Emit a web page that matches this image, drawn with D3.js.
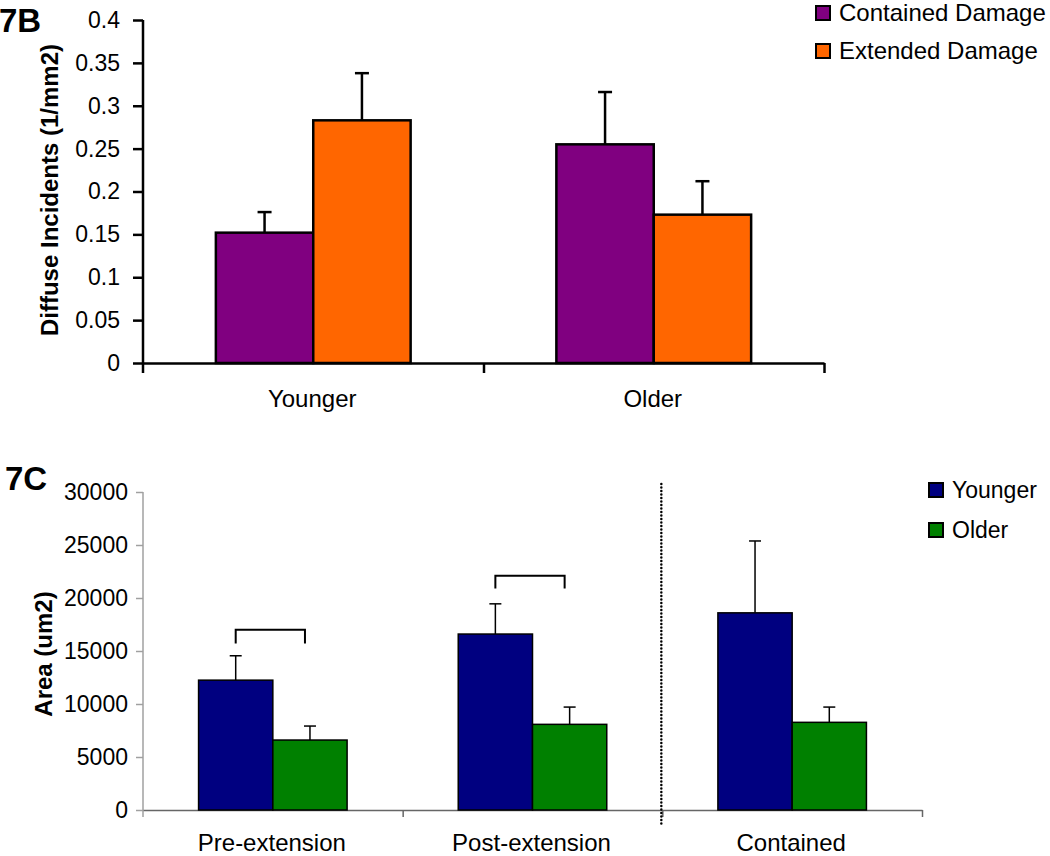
<!DOCTYPE html>
<html>
<head>
<meta charset="utf-8">
<script src="https://cdn.jsdelivr.net/npm/d3@7"></script>
<style>
  body { margin: 0; background: #fff; }
  svg { display: block; font-family: "Liberation Sans", Arial, sans-serif; }
  .tickLabel { font-size: 23px; fill: #000; }
  .groupLabel { font-size: 24px; fill: #000; }
  .axisTitle { font-size: 24px; font-weight: bold; }
  .panelTitle { font-size: 33px; font-weight: bold; }
</style>
</head>
<body>
<div class="chart"></div>
<script>
var w = 1050;
var h = 856;

// ---- panel 7B data ----
var groupsB = ["Younger", "Older"];
var seriesB = ["Contained Damage", "Extended Damage"];
var colorsB = ["#800080", "#ff6600"];
var containedB = [0.152, 0.255];
var extendedB = [0.283, 0.173];
var containedErrB = [0.024, 0.061];
var extendedErrB = [0.055, 0.039];
var yTicksB = [0, 0.05, 0.1, 0.15, 0.2, 0.25, 0.3, 0.35, 0.4];

// ---- panel 7C data ----
var groupsC = ["Pre-extension", "Post-extension", "Contained"];
var seriesC = ["Younger", "Older"];
var colorsC = ["#000080", "#008000"];
var youngerC = [12250, 16600, 18600];
var olderC = [6600, 8080, 8270];
var youngerErrC = [2300, 2850, 6780];
var olderErrC = [1320, 1630, 1440];
var yTicksC = [0, 5000, 10000, 15000, 20000, 25000, 30000];
// significance brackets
var bracketGroups = ["Pre-extension", "Post-extension"];
var bracketTop = [17000, 22100];
var bracketLeg = [15700, 20900];

var svg = d3.select(".chart").append("svg")
            .attr("width", w)
            .attr("height", h);

// builds one grouped bar panel
var barPanel = function(opts) {
  var g = svg.append("g");

  var xScale = d3.scaleBand()
                 .domain(opts.groups)
                 .range([opts.left, opts.right])
                 .padding(0);

  var groupW = xScale.bandwidth() * opts.groupFrac;
  var subScale = d3.scaleBand()
                   .domain(opts.series)
                   .range([-groupW / 2, groupW / 2])
                   .padding(0);

  var yScale = d3.scaleLinear()
                 .domain([0, opts.yMax])
                 .range([opts.bottom, opts.top]);

  // y axis ticks + labels
  var yAxis = d3.axisLeft()
                .scale(yScale)
                .tickValues(opts.yTicks)
                .tickSize(opts.tickLen)
                .tickPadding(opts.tickPad)
                .tickFormat(function(d) { return d; });

  var yg = g.append("g")
            .attr("transform", "translate(" + opts.left + ",0)")
            .call(yAxis);
  yg.select(".domain").remove();
  yg.selectAll(".tick line")
    .attr("stroke", opts.yAxisColor)
    .attr("stroke-width", opts.axisWidth);
  yg.selectAll(".tick text")
    .attr("class", "tickLabel")
    .attr("font-family", null)
    .attr("font-size", null);

  // y axis line, runs a little below zero
  g.append("line")
   .attr("x1", opts.left).attr("x2", opts.left)
   .attr("y1", yScale(opts.yMax)).attr("y2", yScale(0) + opts.tickLen)
   .attr("stroke", opts.yAxisColor)
   .attr("stroke-width", opts.axisWidth);

  // x axis line and ticks at group edges
  var edges = d3.scaleLinear()
                .domain([0, opts.groups.length])
                .range([opts.left, opts.right]);
  var xAxis = d3.axisBottom()
                .scale(edges)
                .tickValues(d3.range(1, opts.groups.length + 1))
                .tickSize(opts.tickLen)
                .tickSizeOuter(0)
                .tickFormat("");
  var xg = g.append("g")
            .attr("transform", "translate(0," + yScale(0) + ")")
            .call(xAxis);
  xg.select(".domain")
    .attr("stroke", opts.xAxisColor)
    .attr("stroke-width", opts.axisWidth);
  xg.selectAll(".tick line")
    .attr("stroke", opts.xAxisColor)
    .attr("stroke-width", opts.axisWidth);

  // group labels
  g.selectAll("groupLabels")
   .data(opts.groups)
   .enter()
   .append("text")
   .attr("class", "groupLabel")
   .attr("text-anchor", "middle")
   .attr("x", function(d) { return xScale(d) + xScale.bandwidth() / 2 - 1; })
   .attr("y", opts.labelY)
   .text(function(d) { return d; });

  // bars
  var rows = [];
  opts.groups.forEach(function(grp, i) {
    opts.series.forEach(function(s, j) {
      rows.push({group: grp, series: s, value: opts.values[j][i],
                 err: opts.errors[j][i], color: opts.colors[j]});
    });
  });
  var cx = function(d) {
    return xScale(d.group) + xScale.bandwidth() / 2 + subScale(d.series) + subScale.bandwidth() / 2;
  };

  // error bars (drawn first, bar covers the bottom of the stem)
  g.selectAll("errStem")
   .data(rows)
   .enter()
   .append("line")
   .attr("x1", cx).attr("x2", cx)
   .attr("y1", function(d) { return yScale(d.value); })
   .attr("y2", function(d) { return yScale(d.value + d.err); })
   .attr("stroke", "#000")
   .attr("stroke-width", opts.errWidth);
  g.selectAll("errCap")
   .data(rows)
   .enter()
   .append("line")
   .attr("x1", function(d) { return cx(d) - opts.capW / 2; })
   .attr("x2", function(d) { return cx(d) + opts.capW / 2; })
   .attr("y1", function(d) { return yScale(d.value + d.err); })
   .attr("y2", function(d) { return yScale(d.value + d.err); })
   .attr("stroke", "#000")
   .attr("stroke-width", opts.errWidth);

  g.selectAll("bars")
   .data(rows)
   .enter()
   .append("rect")
   .attr("x", function(d) { return xScale(d.group) + xScale.bandwidth() / 2 + subScale(d.series); })
   .attr("y", function(d) { return yScale(d.value); })
   .attr("width", subScale.bandwidth())
   .attr("height", function(d) { return yScale(0) - yScale(d.value); })
   .attr("fill", function(d) { return d.color; })
   .attr("stroke", "#000")
   .attr("stroke-width", opts.barStroke);

  // axis title
  g.append("text")
   .attr("class", "axisTitle")
   .attr("text-anchor", "middle")
   .attr("transform", "translate(" + opts.titleX + "," + opts.titleY + ") rotate(-90)")
   .text(opts.yTitle);

  // panel label
  g.append("text")
   .attr("class", "panelTitle")
   .attr("x", opts.panelX)
   .attr("y", opts.panelY)
   .text(opts.panel);

  // legend
  var leg = g.selectAll("legend")
             .data(opts.series)
             .enter()
             .append("g")
             .attr("transform", function(d, i) {
               return "translate(" + opts.legX + "," + (opts.legY + i * opts.legStep) + ")";
             });
  leg.append("rect")
     .attr("x", 0).attr("y", -opts.legBox)
     .attr("width", opts.legBox).attr("height", opts.legBox)
     .attr("fill", function(d, i) { return opts.colors[i]; })
     .attr("stroke", "#000")
     .attr("stroke-width", 2);
  leg.append("text")
     .attr("x", opts.legBox + 9)
     .attr("y", 1)
     .style("font-size", opts.legFont + "px")
     .text(function(d) { return d; });

  return {g: g, x: xScale, sub: subScale, y: yScale, edges: edges};
};

// Panel 7B
barPanel({
  groups: groupsB, series: seriesB, colors: colorsB,
  values: [containedB, extendedB], errors: [containedErrB, extendedErrB],
  left: 143, right: 824, top: 20, bottom: 363, yMax: 0.4, yTicks: yTicksB,
  groupFrac: 0.572, tickLen: 10, tickPad: 13,
  yAxisColor: "#000", xAxisColor: "#000", axisWidth: 2.5,
  barStroke: 2.5, errWidth: 2.5, capW: 14,
  labelY: 407, yTitle: "Diffuse Incidents (1/mm2)", titleX: 58, titleY: 190,
  panel: "7B", panelX: -1, panelY: 32,
  legX: 816, legY: 20, legStep: 38, legBox: 14, legFont: 24
});

// Panel 7C
var pc = barPanel({
  groups: groupsC, series: seriesC, colors: colorsC,
  values: [youngerC, olderC], errors: [youngerErrC, olderErrC],
  left: 143, right: 922, top: 492, bottom: 810, yMax: 30000, yTicks: yTicksC,
  groupFrac: 0.572, tickLen: 7, tickPad: 8,
  yAxisColor: "#a0a0a0", xAxisColor: "#666", axisWidth: 1.5,
  barStroke: 1.5, errWidth: 1.5, capW: 12,
  labelY: 851, yTitle: "Area (um2)", titleX: 52, titleY: 654,
  panel: "7C", panelX: 5, panelY: 490,
  legX: 929, legY: 497, legStep: 40, legBox: 14, legFont: 23
});

// significance brackets in 7C
var bx = function(grp, s) {
  return pc.x(grp) + pc.x.bandwidth() / 2 + pc.sub(s) + pc.sub.bandwidth() / 2;
};
var brackets = bracketGroups.map(function(grp, i) {
  return [
    [bx(grp, seriesC[0]), pc.y(bracketLeg[i])],
    [bx(grp, seriesC[0]), pc.y(bracketTop[i])],
    [bx(grp, seriesC[1]) - 5, pc.y(bracketTop[i])],
    [bx(grp, seriesC[1]) - 5, pc.y(bracketLeg[i])]
  ];
});
pc.g.selectAll("brackets")
  .data(brackets)
  .enter()
  .append("path")
  .attr("d", d3.line())
  .attr("fill", "none")
  .attr("stroke", "#000")
  .attr("stroke-width", 2);

// dotted separator before "Contained"
var sepX = pc.edges(2) - 1;
pc.g.append("line")
  .attr("x1", sepX).attr("x2", sepX)
  .attr("y1", pc.y(30000) - 8)
  .attr("y2", pc.y(0) + 14)
  .attr("stroke", "#000")
  .attr("stroke-width", 2.5)
  .attr("stroke-linecap", "round")
  .attr("stroke-dasharray", "0.1,3.4");
</script>
</body>
</html>
